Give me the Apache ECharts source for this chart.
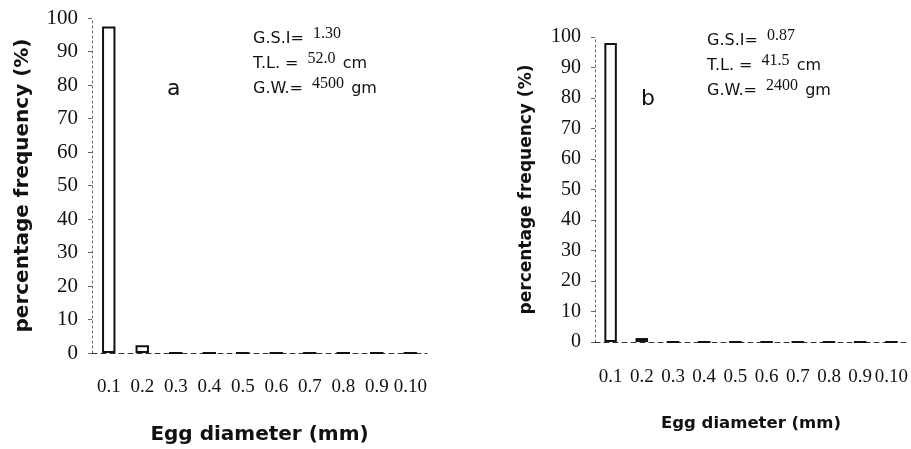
<!DOCTYPE html>
<html>
<head>
<meta charset="utf-8">
<script src="https://cdn.jsdelivr.net/npm/echarts@6/dist/echarts.min.js"></script>
<style>
  html, body { margin: 0; padding: 0; background: #fff; }
  #chart { width: 911px; height: 449px; }
</style>
</head>
<body>
<div id="chart"></div>
<script>
// egg diameter classes (as printed on the figure)
const diameters = ['0.1', '0.2', '0.3', '0.4', '0.5', '0.6', '0.7', '0.8', '0.9', '0.10'];
const freqA = [97.5, 2.3, 0, 0, 0, 0, 0, 0, 0, 0];
const freqB = [98, 1.3, 0, 0, 0, 0, 0, 0, 0, 0];
const infoA = ['1.30', '52.0', '4500'];
const infoB = ['0.87', '41.5', '2400'];
const panelLabels = ['a', 'b'];

const serif = '"Liberation Serif", "DejaVu Serif", serif';
const sans = '"DejaVu Sans", Verdana, sans-serif';

let chart = echarts.init(document.getElementById('chart'));

function xAxisFor(idx, gap, nameSize, labelMargin) {
    return {
        type: 'category',
        gridIndex: idx,
        data: diameters,
        name: 'Egg diameter (mm)',
        nameLocation: 'middle',
        nameGap: gap,
        nameTextStyle: { fontFamily: sans, fontWeight: 'bold', fontSize: nameSize, color: '#111' },
        axisLine: { lineStyle: { color: '#333', type: [5, 4], width: 1 } },
        axisTick: { show: false },
        axisLabel: { interval: 0, margin: labelMargin, fontFamily: serif, fontSize: 19, color: '#111' }
    };
}

function yAxisFor(idx, gap, nameSize, labelSize) {
    return {
        type: 'value',
        gridIndex: idx,
        min: 0,
        max: 100,
        interval: 10,
        name: 'percentage frequency (%)',
        nameLocation: 'middle',
        nameGap: gap,
        nameTextStyle: { fontFamily: sans, fontWeight: 'bold', fontSize: nameSize, color: '#111' },
        axisLine: { show: true, lineStyle: { color: '#666', type: [2, 3], width: 1 } },
        axisTick: { show: true, length: 4, lineStyle: { color: '#666' } },
        axisLabel: { margin: 14, fontFamily: serif, fontSize: labelSize, color: '#111' },
        splitLine: { show: false }
    };
}

function barSeries(idx, values) {
    return {
        type: 'bar',
        xAxisIndex: idx,
        yAxisIndex: idx,
        data: values,
        barWidth: '40%',
        itemStyle: { color: '#fff', borderColor: '#111', borderWidth: 2 },
        silent: true
    };
}

function infoText(x, y, info) {
    return {
        type: 'text',
        left: x,
        top: y,
        style: {
            text: 'G.S.I= {v|' + info[0] + '}\nT.L. = {v|' + info[1] + '} cm\nG.W.= {v|' + info[2] + '} gm',
            font: '16px ' + sans,
            fill: '#111',
            lineHeight: 25,
            rich: {
                v: { fontFamily: serif, fontSize: 16, verticalAlign: 'top', padding: [0, 2, 7, 4] }
            }
        }
    };
}

chart.setOption({
    animation: false,
    grid: [
        { left: 92, top: 18, width: 335, height: 335, outerBoundsMode: 'none' },
        { left: 595, top: 37, width: 312, height: 305, outerBoundsMode: 'none' }
    ],
    xAxis: [xAxisFor(0, 72, 20, 25), xAxisFor(1, 73, 16.5, 26)],
    yAxis: [yAxisFor(0, 59, 20, 21), yAxisFor(1, 60, 17, 20)],
    series: [barSeries(0, freqA), barSeries(1, freqB)],
    graphic: [
        infoText(253, 26, infoA),
        infoText(707, 28, infoB),
        { type: 'text', left: 167, top: 78, style: { text: panelLabels[0], font: '22px ' + sans, fill: '#111' } },
        { type: 'text', left: 641, top: 88, style: { text: panelLabels[1], font: '22px ' + sans, fill: '#111' } }
    ]
});
</script>
</body>
</html>
